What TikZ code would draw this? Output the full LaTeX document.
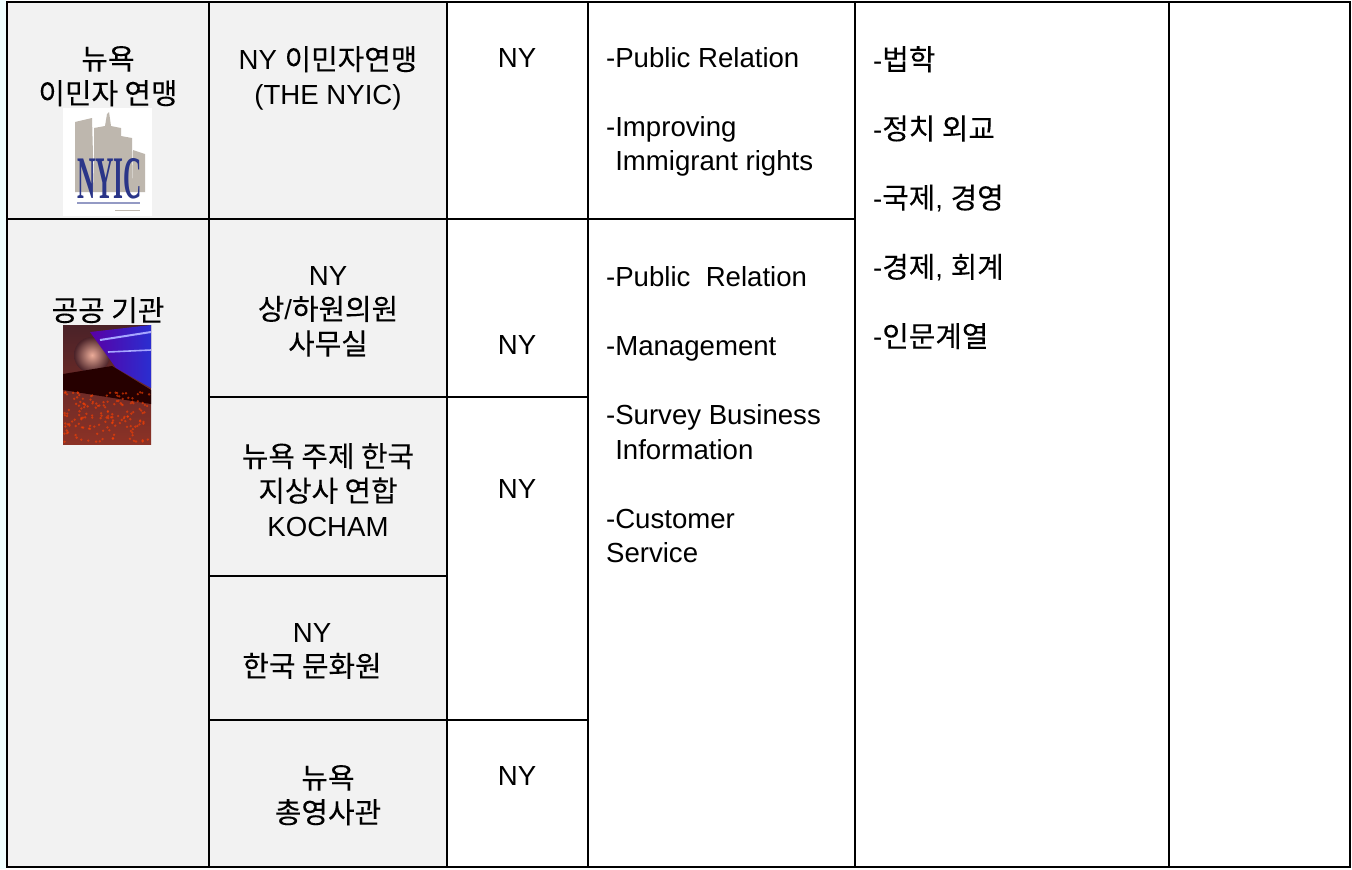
\documentclass[tikz,border=0pt]{standalone}
\usepackage{fontspec}
\setmainfont{Liberation Sans}
\newfontfamily\krfont[Scale=1.045,FakeBold=0.1]{Noto Sans CJK KR}
\newfontfamily\logofont{Liberation Serif}
\newcommand{\kor}[1]{{\krfont #1}}
\definecolor{cellgray}{HTML}{F2F2F2}
\definecolor{margincyan}{HTML}{F0FFFF}
\definecolor{logoblue}{HTML}{2A3588}
\definecolor{logogray}{HTML}{BEB7AE}
\definecolor{hallbrown}{HTML}{4A2228}
\definecolor{hallred}{HTML}{8C3226}
\definecolor{hallblue}{HTML}{2A2ED0}

\begin{document}
\begin{tikzpicture}[x=0.5pt,y=-0.5pt,line width=1.1pt,
  txt/.style={inner sep=0pt,anchor=north,align=center,font=\fontsize{13.8}{17.3}\selectfont},
  lst/.style={inner sep=0pt,anchor=north west,align=left,font=\fontsize{13.8}{17.3}\selectfont}]
\useasboundingbox (0,0) rectangle (1352,869);
\fill[white] (0,0) rectangle (1352,869);
\fill[margincyan] (0,0) rectangle (6,869);
\fill[cellgray] (7,2) rectangle (447,867);

% cells
\draw (7,2) rectangle (209,219);
\draw (7,219) rectangle (209,867);
\draw (209,2) rectangle (447,219);
\draw (209,219) rectangle (447,397);
\draw (209,397) rectangle (447,576);
\draw (209,576) rectangle (447,720);
\draw (209,720) rectangle (447,867);
\draw (447,2) rectangle (588,219);
\draw (447,219) rectangle (588,397);
\draw (447,397) rectangle (588,720);
\draw (447,720) rectangle (588,867);
\draw (588,2) rectangle (855,219);
\draw (588,219) rectangle (855,867);
\draw (855,2) rectangle (1169,867);
\draw (1169,2) rectangle (1350,867);

% NYIC logo
\fill[white] (63,108) rectangle (152,216);
\fill[logogray] (75,192) -- (75,122) -- (92,118) -- (94,192) -- cycle;
\fill[logogray] (94,192) -- (94,128) -- (105,126) -- (107,114) -- (109,112) -- (111,126) -- (121,128) -- (121,192) -- cycle;
\fill[logogray] (121,192) -- (121,136) -- (132,138) -- (133,192) -- cycle;
\fill[logogray] (133,192) -- (133,150) -- (145,154) -- (145,192) -- cycle;
\node[inner sep=0pt,anchor=north west,text=logoblue] (logo) at (76,157) {\resizebox{32.5pt}{20pt}{\logofont\bfseries NYIC}};
\draw[logoblue!50,line width=0.6pt] (77,203) -- (140,203);
\draw[logogray,line width=0.5pt] (115,210) -- (140,210);

% hall picture
\shade[top color=hallbrown, bottom color=hallred] (63,325) rectangle (151,444);
\shade[inner color=pink!70!brown, outer color=hallbrown] (92,355) circle (18);
\shade[left color=violet!70!blue, right color=hallblue] (90,332) -- (151,325) -- (151,388) -- (116,368) -- cycle;
\draw[blue!35!white,line width=1pt] (100,340) -- (151,332);
\draw[blue!35!white,line width=0.8pt] (108,352) -- (151,350);
\fill[black!85!red] (63,374) -- (112,366) -- (151,390) -- (151,404) -- (63,390) -- cycle;
\pgfmathsetseed{11}
\foreach \i in {1,...,160}
  \fill[orange!50!red,opacity=0.6] ({64+86*rnd},{392+50*rnd}) circle (1.3);

% texts
\node[txt] (orgA) at (108,45) {\kor{뉴욕}\\\kor{이민자 연맹}};
\node[txt] (orgB) at (108,296) {\kor{공공 기관}};
\node[txt] (nyic) at (328,45) {NY \kor{이민자연맹}\\(THE NYIC)};
\node[txt] (senate) at (328,265) {NY\\\kor{상}/\kor{하원의원}\\\kor{사무실}};
\node[txt] (kocham) at (328,442) {\kor{뉴욕 주제 한국}\\\kor{지상사 연합}\\KOCHAM};
\node[txt] (culture) at (312,622) {NY\\\kor{한국 문화원}};
\node[txt] (consul) at (328,764) {\kor{뉴욕}\\\kor{총영사관}};
\node[txt] (locA) at (517,47) {NY};
\node[txt] (locB) at (517,334) {NY};
\node[txt] (locC) at (517,478) {NY};
\node[txt] (locD) at (517,765) {NY};
\node[lst] (workA) at (605,46) {-Public Relation\\[17.3pt]-Improving\\\hphantom{-}Immigrant rights};
\node[lst] (workB) at (605,265) {-Public\ \ Relation\\[17.3pt]-Management\\[17.3pt]-Survey Business\\\hphantom{-}Information\\[17.3pt]-Customer\\Service};
\node[lst] (major) at (872,45) {-\kor{법학}\\[17.3pt]-\kor{정치 외교}\\[17.3pt]-\kor{국제}, \kor{경영}\\[17.3pt]-\kor{경제}, \kor{회계}\\[17.3pt]-\kor{인문계열}};

\end{tikzpicture}
\end{document}
